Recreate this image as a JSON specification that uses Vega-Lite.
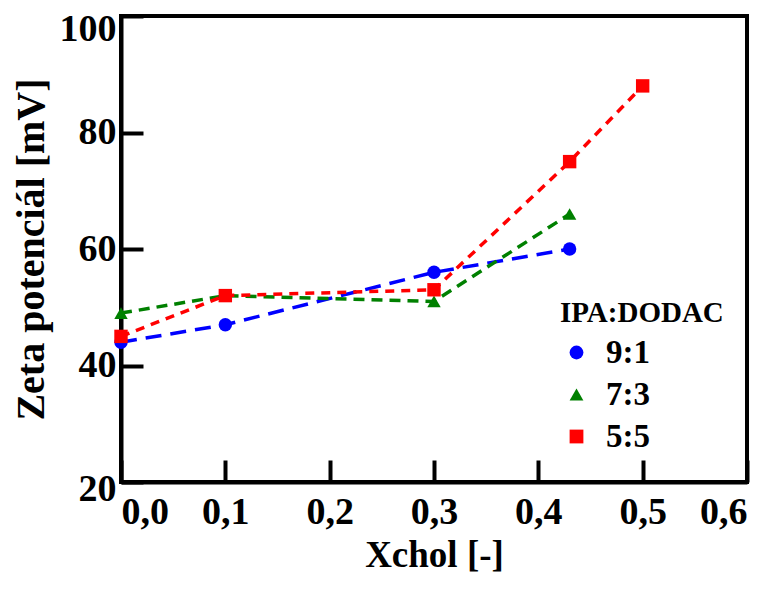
{
  "$schema": "https://vega.github.io/schema/vega-lite/v6.json",
  "width": 626,
  "height": 466,
  "autosize": "none",
  "padding": {"left": 121, "top": 16, "right": 24, "bottom": 107},
  "background": "white",
  "config": {
    "view": {"stroke": "black", "strokeWidth": 4},
    "font": "Liberation Serif",
    "axis": {
      "domainColor": "black", "domainWidth": 4, "tickColor": "black", "tickWidth": 4,
      "grid": false, "labelFont": "Liberation Serif", "labelFontWeight": "bold", "labelFontSize": 38,
      "labelColor": "black", "titleFont": "Liberation Serif", "titleFontWeight": "bold", "titleColor": "black"
    },
    "legend": {
      "titleFont": "Liberation Serif", "titleFontWeight": "bold", "titleFontSize": 29, "titleColor": "black",
      "labelFont": "Liberation Serif", "labelFontWeight": "bold", "labelFontSize": 33, "labelColor": "black",
      "symbolSize": 190, "symbolStrokeWidth": 0, "rowPadding": 8, "labelOffset": 13, "symbolOffset": 0, "titlePadding": 8
    }
  },
  "data": {
    "values": [
      {"series": "9:1", "x": 0.0, "y": 44},
      {"series": "9:1", "x": 0.1, "y": 47},
      {"series": "9:1", "x": 0.3, "y": 56},
      {"series": "9:1", "x": 0.43, "y": 60},
      {"series": "7:3", "x": 0.0, "y": 49},
      {"series": "7:3", "x": 0.1, "y": 52},
      {"series": "7:3", "x": 0.3, "y": 51},
      {"series": "7:3", "x": 0.43, "y": 66},
      {"series": "5:5", "x": 0.0, "y": 45},
      {"series": "5:5", "x": 0.1, "y": 52},
      {"series": "5:5", "x": 0.3, "y": 53},
      {"series": "5:5", "x": 0.43, "y": 75},
      {"series": "5:5", "x": 0.5, "y": 88}
    ]
  },
  "encoding": {
    "x": {
      "field": "x", "type": "quantitative",
      "scale": {"domain": [0, 0.6], "nice": false, "zero": false},
      "axis": {"values": [0, 0.1, 0.2, 0.3, 0.4, 0.5, 0.6], "labelExpr": "replace(format(datum.value, '.1f'), '.', ',')",
        "tickSize": -22, "labelPadding": 33, "title": "Xchol [-]", "titleFontSize": 37, "titlePadding": 6}
    },
    "y": {
      "field": "y", "type": "quantitative",
      "scale": {"domain": [20, 100], "nice": false, "zero": false},
      "axis": {"values": [20, 40, 60, 80, 100], "tickSize": -22, "labelPadding": 27, "title": "Zeta potenciál [mV]", "titleFontSize": 40, "titlePadding": 8,
        "labelOffset": {"condition": [{"test": "datum.value == 100", "value": 13}, {"test": "datum.value == 20", "value": 7}], "value": 0}}
    },
    "color": {
      "field": "series", "type": "nominal",
      "scale": {"domain": ["9:1", "7:3", "5:5"], "range": ["#0000ff", "#008000", "#ff0000"]},
      "legend": {"title": "IPA:DODAC", "orient": "none", "legendX": 439, "legendY": 283}
    }
  },
  "layer": [
    {
      "mark": {"type": "line", "strokeWidth": 3.5},
      "encoding": {
        "strokeDash": {
          "field": "series", "type": "nominal",
          "scale": {"domain": ["9:1", "7:3", "5:5"], "range": [[16, 9], [11, 7], [9, 7]]},
          "legend": null
        }
      }
    },
    {
      "mark": {"type": "point", "filled": true, "opacity": 1, "size": 180},
      "encoding": {
        "shape": {
          "field": "series", "type": "nominal",
          "scale": {"domain": ["9:1", "7:3", "5:5"], "range": ["circle", "triangle-up", "square"]},
          "legend": {"title": "IPA:DODAC", "orient": "none", "legendX": 439, "legendY": 283}
        }
      }
    }
  ]
}
